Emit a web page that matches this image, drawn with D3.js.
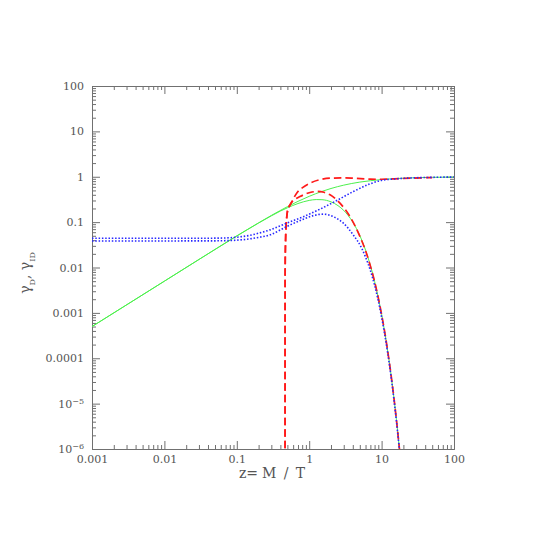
<!DOCTYPE html>
<html><head><meta charset="utf-8">
<script src="https://cdn.jsdelivr.net/npm/d3@7"></script>
<style>body{margin:0;background:#fff}</style>
</head><body>
<svg id="c" width="540" height="540" xmlns="http://www.w3.org/2000/svg"></svg>
<script>
// ---- tick values and labels ----
const xMajorVals = [0.001, 0.01, 0.1, 1, 10, 100];
const xTickLabels = ["0.001", "0.01", "0.1", "1", "10", "100"];
const yMajorVals = [1e-6, 1e-5, 1e-4, 1e-3, 0.01, 0.1, 1, 10, 100];
const yTickLabels = ["10^\u22126", "10^\u22125", "0.0001", "0.001", "0.01", "0.1", "1", "10", "100"];

// ---- series ----
// green solid, upper (gamma_D like)
const zGreenUp = [0.001, 0.01, 0.03, 0.1, 0.2, 0.3, 0.5, 0.7, 1, 1.5, 2, 3, 5, 7, 10, 20, 50, 100];
const vGreenUp = [0.0005, 0.005, 0.015, 0.0499, 0.0965, 0.1405, 0.219, 0.287, 0.370, 0.475, 0.551, 0.653, 0.762, 0.818, 0.867, 0.929, 0.971, 0.985];
// green solid, lower (gamma_ID like)
const zGreenLo = [0.001, 0.01, 0.1, 0.2, 0.3, 0.4, 0.5, 0.7, 1, 1.25, 1.5, 2, 2.5, 3, 4, 5, 6, 7, 8, 10, 12, 14, 16, 18];
const vGreenLo = [0.0005, 0.005, 0.0493, 0.0955, 0.1375, 0.175, 0.207, 0.257, 0.301, 0.314, 0.312, 0.280, 0.231, 0.181, 0.100, 0.0506, 0.0242, 0.0111, 0.00497, 0.00093, 0.000164, 0.0000277, 0.0000045, 0.00000072];
// blue dotted, upper
const zBlueUp = [0.001, 0.01, 0.03, 0.06, 0.1, 0.15, 0.2, 0.288, 0.489, 0.83, 1.41, 2.4, 4.07, 6.92, 9.5, 15, 25, 50, 100];
const vBlueUp = [0.044, 0.044, 0.0441, 0.0445, 0.0465, 0.051, 0.057, 0.0675, 0.0948, 0.132, 0.193, 0.299, 0.472, 0.697, 0.82, 0.895, 0.94, 0.97, 0.985];
// blue dotted, lower
const zBlueLo = [0.001, 0.01, 0.05, 0.1, 0.2, 0.288, 0.489, 0.83, 1.14, 1.57, 2.15, 2.96, 4.07, 5.31, 6, 7, 8, 10, 12, 14, 16, 18];
const vBlueLo = [0.0385, 0.0385, 0.0387, 0.040, 0.046, 0.0524, 0.0798, 0.116, 0.139, 0.150, 0.132, 0.095, 0.052, 0.0266, 0.017, 0.0086, 0.0041, 0.00081, 0.000148, 0.0000255, 0.0000042, 0.00000068];
// red dashed, upper
const zRedUp = [0.4642, 0.465, 0.467, 0.47, 0.475, 0.48, 0.49, 0.5, 0.52, 0.543, 0.568, 0.6, 0.671, 0.73, 0.8, 1.026, 1.4, 1.94, 3, 4.07, 6.92, 10, 15, 25, 50];
const vRedUp = [1e-7, 0.005, 0.015, 0.03, 0.06, 0.085, 0.13, 0.17, 0.21, 0.24, 0.27, 0.32, 0.435, 0.51, 0.57, 0.723, 0.86, 0.93, 0.945, 0.93, 0.885, 0.88, 0.9, 0.93, 0.96];
// red dashed, lower
const zRedLo = [0.4642, 0.465, 0.467, 0.47, 0.475, 0.48, 0.49, 0.5, 0.52, 0.543, 0.568, 0.6, 0.746, 1.026, 1.3, 1.6, 1.94, 2.66, 3.66, 5.03, 6, 7, 8, 10, 12, 14, 16, 18];
const vRedLo = [1e-7, 0.005, 0.015, 0.03, 0.06, 0.085, 0.13, 0.17, 0.21, 0.24, 0.27, 0.295, 0.366, 0.449, 0.474, 0.455, 0.40, 0.262, 0.132, 0.048, 0.0235, 0.0108, 0.0049, 0.00092, 0.000163, 0.0000275, 0.0000045, 0.00000072];

// ---- layout ----
const X0 = 92, X1 = 454, Y0 = 86, Y1 = 449;
const svg = d3.select("#c");
const x = d3.scaleLog().domain([1e-3, 1e2]).range([X0, X1]);
const y = d3.scaleLog().domain([1e-6, 1e2]).range([Y1, Y0]);

function minorTicks(lo, hi) {
  const t = [];
  for (let e = lo; e < hi; e++) for (let k = 2; k <= 9; k++) t.push(k * Math.pow(10, e));
  return t;
}
const xMinor = minorTicks(-3, 2), yMinor = minorTicks(-6, 2);

const axisColor = "#707070";
function styleAxis(g) {
  g.selectAll("path,line").attr("stroke", axisColor).attr("stroke-width", 1);
  g.attr("font-family", "'DejaVu Serif', serif").attr("font-size", 11);
  g.selectAll("text").attr("fill", "#555");
}

// bottom
svg.append("g").attr("transform", `translate(0,${Y1})`)
  .call(d3.axisBottom(x).tickValues(xMinor).tickSize(-4).tickSizeOuter(0).tickFormat(""))
  .call(styleAxis);
svg.append("g").attr("transform", `translate(0,${Y1})`)
  .call(d3.axisBottom(x).tickValues(xMajorVals).tickSize(-8).tickSizeOuter(0).tickPadding(6)
    .tickFormat((d, i) => xTickLabels[i]))
  .call(styleAxis);
// top
svg.append("g").attr("transform", `translate(0,${Y0})`)
  .call(d3.axisTop(x).tickValues(xMinor).tickSize(-4).tickSizeOuter(0).tickFormat(""))
  .call(styleAxis);
svg.append("g").attr("transform", `translate(0,${Y0})`)
  .call(d3.axisTop(x).tickValues(xMajorVals).tickSize(-8).tickSizeOuter(0).tickFormat(""))
  .call(styleAxis);
// left
svg.append("g").attr("transform", `translate(${X0},0)`)
  .call(d3.axisLeft(y).tickValues(yMinor).tickSize(-4).tickSizeOuter(0).tickFormat(""))
  .call(styleAxis);
const yLeft = svg.append("g").attr("transform", `translate(${X0},0)`)
  .call(d3.axisLeft(y).tickValues(yMajorVals).tickSize(-8).tickSizeOuter(0).tickPadding(8)
    .tickFormat((d, i) => yTickLabels[i]))
  .call(styleAxis);
yLeft.selectAll(".tick text").each(function () {
  const t = d3.select(this);
  const s = t.text();
  if (s.indexOf("^") >= 0) {
    const [base, ex] = s.split("^");
    t.text(base);
    t.append("tspan").attr("dy", "-0.5em").attr("font-size", 8).text(ex);
  }
});
// right
svg.append("g").attr("transform", `translate(${X1},0)`)
  .call(d3.axisRight(y).tickValues(yMinor).tickSize(-4).tickSizeOuter(0).tickFormat(""))
  .call(styleAxis);
svg.append("g").attr("transform", `translate(${X1},0)`)
  .call(d3.axisRight(y).tickValues(yMajorVals).tickSize(-8).tickSizeOuter(0).tickFormat(""))
  .call(styleAxis);

// ---- curves ----
svg.append("clipPath").attr("id", "clip").append("rect")
  .attr("x", X0).attr("y", Y0).attr("width", X1 - X0).attr("height", Y1 - Y0);
const plot = svg.append("g").attr("clip-path", "url(#clip)");
const line = d3.line().x(d => x(d[0])).y(d => y(d[1])).curve(d3.curveMonotoneX);
const zipv = (zs, vs) => zs.map((z, i) => [z, vs[i]]);

const series = [
  { d: zipv(zGreenUp, vGreenUp), c: "#4cf04c", w: 1, dash: null },
  { d: zipv(zGreenLo, vGreenLo), c: "#4cf04c", w: 1, dash: null },
  { d: zipv(zRedUp, vRedUp), c: "#ff1a1a", w: 1.7, dash: "7.5,4" },
  { d: zipv(zRedLo, vRedLo), c: "#ff1a1a", w: 1.7, dash: "7.5,4" },
  { d: zipv(zBlueUp, vBlueUp), c: "#2626ff", w: 1.6, dash: "1.5,1.8" },
  { d: zipv(zBlueLo, vBlueLo), c: "#2626ff", w: 1.6, dash: "1.5,1.8" }
];
series.forEach(s => {
  plot.append("path").attr("d", line(s.d)).attr("fill", "none")
    .attr("stroke", s.c).attr("stroke-width", s.w)
    .attr("stroke-dasharray", s.dash);
});

// ---- axis titles ----
const tg = svg.append("g").attr("font-family", "'DejaVu Serif', serif").attr("fill", "#555");
tg.append("text").attr("x", 239).attr("y", 478).attr("font-size", 14)
  .attr("textLength", 19).attr("lengthAdjust", "spacing").text("z=");
tg.append("text").attr("x", 262).attr("y", 478).attr("font-size", 14)
  .attr("textLength", 43).attr("lengthAdjust", "spacing").text("M/T");

const yl = tg.append("text").attr("transform", "translate(30,273) rotate(-90)")
  .attr("text-anchor", "middle").attr("font-size", 14);
yl.append("tspan").text("\u03b3");
yl.append("tspan").attr("dy", 5).attr("font-size", 8).text("D");
yl.append("tspan").attr("dy", -5).text(", \u03b3");
yl.append("tspan").attr("dy", 5).attr("font-size", 8).text("ID");
</script>
</body></html>
